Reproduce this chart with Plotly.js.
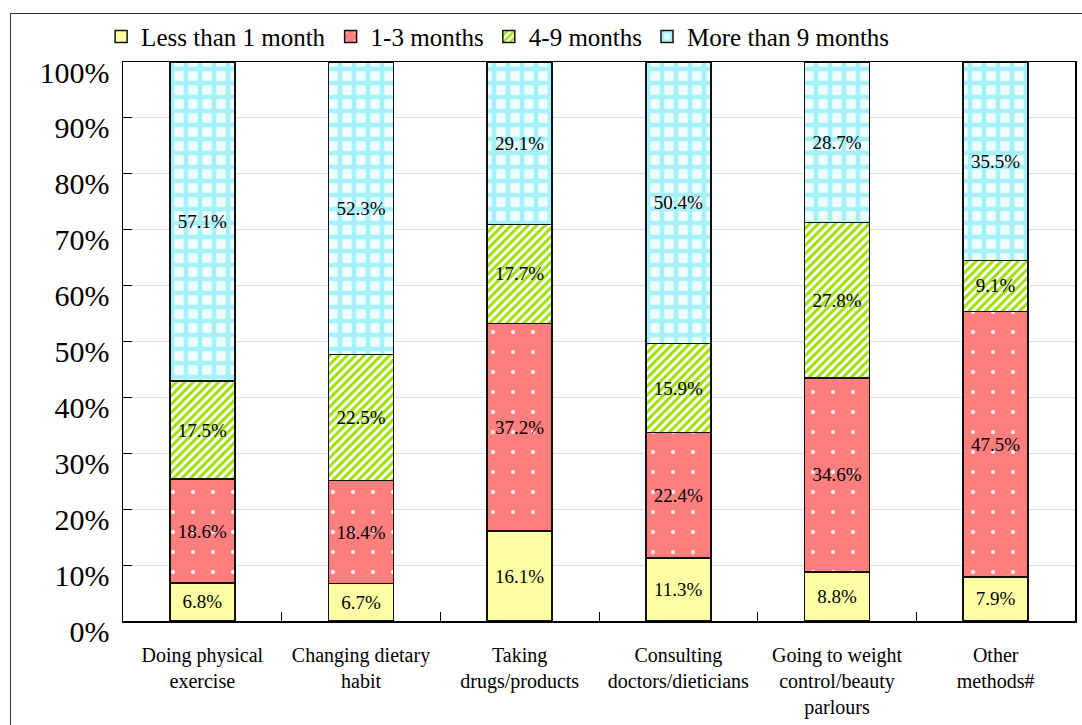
<!DOCTYPE html>
<html>
<head>
<meta charset="utf-8">
<script src="https://cdn.plot.ly/plotly-3.0.1.min.js"></script>
<style>
html,body{margin:0;padding:0;overflow:hidden;background:#fff;}
#chart{width:1082px;height:725px;}
#frame{position:absolute;left:10px;top:13px;width:2000px;height:2000px;border:1.5px solid #333;pointer-events:none;}
</style>
</head>
<body>
<div id="chart"></div>
<div id="frame"></div>
<script>
const categories = [
  "Doing physical<br>exercise",
  "Changing dietary<br>habit",
  "Taking<br>drugs/products",
  "Consulting<br>doctors/dieticians",
  "Going to weight<br>control/beauty<br>parlours",
  "Other<br>methods#"
];
const seriesNames = ["Less than 1 month", "1-3 months", "4-9 months", "More than 9 months"];
const lessThan1 = [6.8, 6.7, 16.1, 11.3, 8.8, 7.9];
const months1to3 = [18.6, 18.4, 37.2, 22.4, 34.6, 47.5];
const months4to9 = [17.5, 22.5, 17.7, 15.9, 27.8, 9.1];
const moreThan9 = [57.1, 52.3, 29.1, 50.4, 28.7, 35.5];
const yTicks = [0,10,20,30,40,50,60,70,80,90,100];

const FONT = "Liberation Serif, Times New Roman, serif";
const outline = {color:"#111", width:1.5};

function mk(name, vals, pattern, color){
  return {
    type:"bar", name:name, x:categories, y:vals,
    text: vals.map(v => v.toFixed(1) + "%"),
    textposition:"inside", insidetextanchor:"middle", textangle:0,
    constraintext:"none",
    textfont:{family:FONT, size:19, color:"#000"},
    marker:{color:color, line:outline, pattern:pattern},
    hoverinfo:"skip"
  };
}

const data = [
  mk(seriesNames[0], lessThan1, {shape:""}, "#ffffa6"),
  mk(seriesNames[1], months1to3, {shape:".", fgcolor:"#ffffff", bgcolor:"#ff7f7f", size:20, solidity:0.03, fillmode:"replace"}, "#ff7f7f"),
  mk(seriesNames[2], months4to9, {shape:"/", fgcolor:"#9ee000", bgcolor:"#ffffff", size:6, solidity:0.5, fillmode:"replace"}, "#9ee000"),
  mk(seriesNames[3], moreThan9, {shape:"+", fgcolor:"#a6f2fa", bgcolor:"#f0feff", size:14, solidity:0.55, fillmode:"replace"}, "#a6f2fa")
];

const layout = {
  width:1082, height:725,
  margin:{l:123, r:7, t:62, b:104},
  paper_bgcolor:"#fff", plot_bgcolor:"#fff",
  barmode:"stack", barnorm:"percent", bargap:0.59,
  font:{family:FONT, color:"#000"},
  showlegend:true,
  legend:{orientation:"h", x:-0.023, xanchor:"left", y:1.004, yanchor:"bottom",
          font:{family:FONT, size:25, color:"#000"}, traceorder:"normal",
          tracegroupgap:0, bgcolor:"rgba(0,0,0,0)"},
  xaxis:{type:"category", showline:true, mirror:true, linecolor:"#000", linewidth:1.5,
         ticks:"inside", ticklen:9, tickcolor:"#000", tickson:"boundaries",
         showgrid:false, tickfont:{family:FONT, size:20, color:"#000"},
         ticklabelstandoff:15, automargin:false},
  yaxis:{range:[0,100], tickvals:yTicks, ticktext:yTicks.map(v => v + "%"),
         showline:true, mirror:true, linecolor:"#000", linewidth:1.5,
         ticks:"inside", ticklen:9, tickcolor:"#000",
         showgrid:true, gridcolor:"#dcdcdc", gridwidth:1, zeroline:false,
         tickfont:{family:FONT, size:30, color:"#000"},
         ticklabelstandoff:6, ticklabelshift:10, automargin:false}
};

Plotly.newPlot("chart", data, layout, {displayModeBar:false, staticPlot:true});
</script>
</body>
</html>
